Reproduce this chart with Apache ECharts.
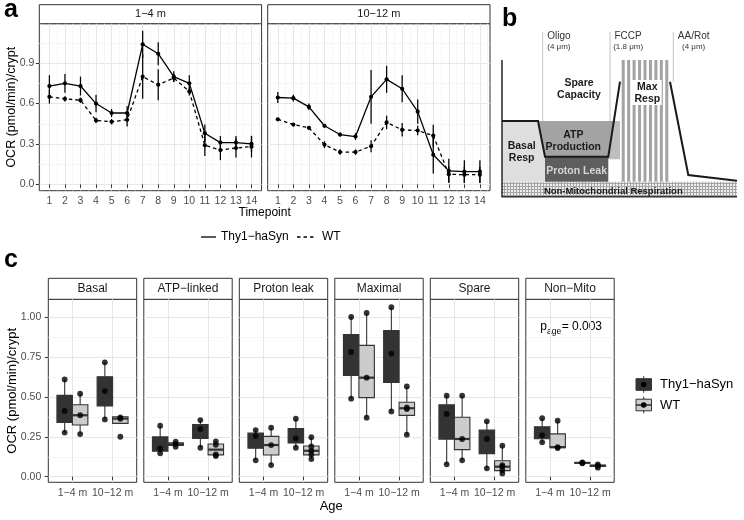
<!DOCTYPE html>
<html>
<head>
<meta charset="utf-8">
<title>OCR</title>
<script src="https://cdn.jsdelivr.net/npm/echarts@6/dist/echarts.min.js"></script>
<style>
html,body{margin:0;padding:0;background:#fff;}
#chart{width:744px;height:520px;}
</style>
</head>
<body>
<div id="chart"></div>
<script>
// ================= DATA =================
// Panel a : Seahorse OCR time course (mean, SE)
const timepoints = [1,2,3,4,5,6,7,8,9,10,11,12,13,14];
const ageGroups = ['1−4 m', '10−12 m'];
const genotypes = ['Thy1−haSyn', 'WT'];

const thyYoungMean = [0.73,0.75,0.73,0.60,0.53,0.53,1.04,0.97,0.80,0.75,0.38,0.31,0.31,0.30];
const thyYoungSE   = [0.08,0.07,0.07,0.065,0.03,0.05,0.10,0.085,0.04,0.06,0.065,0.05,0.05,0.06];
const wtYoungMean  = [0.65,0.635,0.625,0.475,0.465,0.48,0.80,0.74,0.79,0.69,0.29,0.255,0.27,0.28];
const wtYoungSE    = [0.05,0.02,0.02,0.02,0.02,0.05,0.165,0.115,0.03,0.03,0.08,0.075,0.07,0.08];
const thyOldMean   = [0.645,0.64,0.575,0.435,0.37,0.355,0.65,0.78,0.71,0.54,0.22,0.10,0.095,0.095];
const thyOldSE     = [0.04,0.025,0.025,0.01,0.015,0.025,0.20,0.10,0.10,0.09,0.14,0.09,0.085,0.085];
const wtOldMean    = [0.483,0.444,0.42,0.295,0.24,0.24,0.283,0.46,0.405,0.40,0.362,0.075,0.072,0.072];
const wtOldSE      = [0.01,0.01,0.01,0.025,0.02,0.02,0.045,0.05,0.05,0.035,0.08,0.06,0.06,0.06];
const yTicksA = [0, 0.3, 0.6, 0.9];
const yMinorA = [0.15, 0.45, 0.75, 1.05];
const xMinorA = [0.5,1.5,2.5,3.5,4.5,5.5,6.5,7.5,8.5,9.5,10.5,11.5,12.5,13.5,14.5];

// Panel b : schematic (time units x, OCR units y)
const nonMitoBand   = [[0,0],[235,0],[235,15],[0,15]];
const atpBand       = [[41,37.4],[118,37.4],[118,75.7],[41,75.7]];
const atpCore       = [[36,75.7],[43,40],[106.3,40],[112,75.7]];
const basalArea     = [[0,15],[43,15],[43,40],[36,75.7],[0,75.7]];
const protonLeak    = [[43,15],[106.3,15],[106.3,40],[43,40]];
const maxRespSpan   = [119.7,166.3,15,136.7];
const maxRespLabel  = [[129.7,91.7],[159.7,91.7],[159.7,116.7],[129.7,116.7]];
const ocrTraceA     = [[0,75.7],[36,75.7],[43,40],[106.3,40],[118,115]];
const ocrTraceB     = [[168,115],[186.3,21.7],[235,16]];
const schemAxes     = [[0,136.7],[0,0],[235,0]];
const injections    = [[40.7,'Oligo','(4 μm)',75.7],[108,'FCCP','(1.8 μm)',75.7],[171.3,'AA/Rot','(4 μm)',115]];
const regionLabels  = [
  ['Spare\nCapacity', 77, 107.2, 'dark'],
  ['ATP\nProduction', 71.3, 55.9, 'dark'],
  ['Basal\nResp', 19.7, 44.7, 'dark'],
  ['Proton Leak', 74.7, 25.7, 'light'],
  ['Max\nResp', 145.3, 103.5, 'dark'],
  ['Non-Mitochondrial Respiration', 111.3, 5, 'small']
];

// Panel c : box statistics [lower whisker, Q1, median, Q3, upper whisker]
// order: Thy1 1-4 m, WT 1-4 m, Thy1 10-12 m, WT 10-12 m
const facetNames = ['Basal','ATP−linked','Proton leak','Maximal','Spare','Non−Mito'];
const basalBoxes   = [[0.276,0.341,0.412,0.511,0.611],[0.268,0.325,0.386,0.452,0.521],[0.36,0.444,0.538,0.628,0.718],[0.335,0.335,0.365,0.377,0.377]];
const basalPoints  = [[0.611,0.413,0.277],[0.521,0.386,0.268],[0.718,0.538,0.36],[0.373,0.364,0.251]];
const atpBoxes     = [[0.147,0.16,0.178,0.25,0.32],[0.188,0.196,0.204,0.213,0.22],[0.182,0.24,0.30,0.328,0.356],[0.13,0.1375,0.17,0.2055,0.222]];
const atpPoints    = [[0.32,0.178,0.147],[0.22,0.205,0.188],[0.356,0.30,0.182],[0.222,0.2,0.14,0.13]];
const protonBoxes  = [[0.103,0.179,0.255,0.274,0.293],[0.073,0.136,0.199,0.2535,0.308],[0.182,0.2115,0.241,0.3025,0.364],[0.111,0.137,0.163,0.193,0.248]];
const protonPoints = [[0.293,0.255,0.103],[0.308,0.199,0.073],[0.364,0.241,0.182],[0.248,0.19,0.163,0.14,0.111]];
const maximalBoxes = [[0.49,0.6365,0.783,0.893,1.003],[0.371,0.4965,0.622,0.825,1.028],[0.41,0.5915,0.773,0.9185,1.064],[0.264,0.385,0.43,0.468,0.567]];
const maximalPoints= [[1.003,0.783,0.49],[1.028,0.622,0.371],[1.064,0.773,0.41],[0.567,0.435,0.425,0.264]];
const spareBoxes   = [[0.078,0.236,0.394,0.4515,0.509],[0.103,0.17,0.237,0.373,0.509],[0.053,0.145,0.237,0.2925,0.348],[0.021,0.038,0.063,0.10,0.195]];
const sparePoints  = [[0.509,0.394,0.078],[0.509,0.237,0.103],[0.348,0.237,0.053],[0.195,0.073,0.063,0.042,0.021]];
const nonMitoBoxes = [[0.216,0.238,0.26,0.3135,0.367],[0.18,0.183,0.186,0.269,0.352],[0.084,0.0855,0.087,0.0885,0.09],[0.057,0.064,0.068,0.073,0.077]];
const nonMitoPoints= [[0.367,0.26,0.216],[0.352,0.186,0.18],[0.09,0.087,0.084],[0.077,0.068,0.057]];
const yTicksC = [0, 0.25, 0.5, 0.75, 1.0];
const yMinorC = [0.125, 0.375, 0.625, 0.875];
const pAgeValue = '= 0.003';

// ================= LAYOUT / STYLE =================
const FONT = "'Liberation Sans', Arial, Helvetica, sans-serif";
const A_LEFT = [39.3, 267.7], A_W = 222.3, A_TOP = 23.7, A_H = 167, A_STRIP = 19;
const C_LEFT0 = 48.3, C_STEP = 95.5, C_W = 88.4, C_TOP = 299.3, C_H = 183, C_STRIP = 21;
const DODGE = 0.1925, BOXW = 0.385;
const BORDER = '#333333';
const TICK_FS = 10.5;

const grids = [], xAxes = [], yAxes = [], series = [], graphics = [];

function addGrid(g) { grids.push(g); return grids.length - 1; }
function axisPair(arr, gi, s) {
  arr.push({
    type: 'value', gridIndex: gi, min: s.min, max: s.max, show: s.show !== false,
    axisLine: { show: false },
    axisTick: { show: !!s.ticks, length: 3.5, inside: false, lineStyle: { color: BORDER, width: 1 }, customValues: s.major },
    axisLabel: { show: !!s.labels, customValues: s.major, formatter: s.fmt, color: '#4d4d4d', fontSize: TICK_FS, fontFamily: FONT, margin: s.margin || 5 },
    splitLine: { show: s.show !== false, lineStyle: { color: '#e6e6e6', width: 1 } },
    minorTick: { show: false }, minorSplitLine: { show: false }
  });
  const hasMinor = !!(s.minor && s.minor.length) && s.show !== false;
  arr.push({
    type: 'value', gridIndex: gi, min: s.min, max: s.max, show: hasMinor,
    axisLine: { show: false },
    axisTick: { show: false, customValues: hasMinor ? s.minor : [s.min] },
    axisLabel: { show: false },
    splitLine: { show: hasMinor, lineStyle: { color: '#f2f2f2', width: 0.7 } }
  });
}
function addAxes(gi, xs, ys) { axisPair(xAxes, gi, xs); axisPair(yAxes, gi, ys); }

function renderErr(params, api) {
  const x = api.value(0), m = api.value(1), s = api.value(2);
  const t = api.coord([x, m + s]), b = api.coord([x, m - s]);
  return { type: 'line', shape: { x1: t[0], y1: t[1], x2: b[0], y2: b[1] }, style: { stroke: '#000', lineWidth: 1.25 } };
}
function renderBox(params, api) {
  const cat = api.value(0), g = api.value(1);
  const x = cat + (g === 0 ? -DODGE : DODGE);
  const lo = api.coord([x, api.value(2)]), q1 = api.coord([x, api.value(3)]),
        md = api.coord([x, api.value(4)]), q3 = api.coord([x, api.value(5)]), hi = api.coord([x, api.value(6)]);
  const hw = api.size([BOXW, 0])[0] / 2;
  const fill = g === 0 ? '#333333' : '#cccccc';
  return { type: 'group', children: [
    { type: 'line', shape: { x1: lo[0], y1: lo[1], x2: q1[0], y2: q1[1] }, style: { stroke: BORDER, lineWidth: 1.1 } },
    { type: 'line', shape: { x1: q3[0], y1: q3[1], x2: hi[0], y2: hi[1] }, style: { stroke: BORDER, lineWidth: 1.1 } },
    { type: 'rect', shape: { x: lo[0] - hw, y: q3[1], width: 2 * hw, height: Math.max(q1[1] - q3[1], 0.5) }, style: { fill: fill, stroke: BORDER, lineWidth: 1.1 } },
    { type: 'line', shape: { x1: lo[0] - hw, y1: md[1], x2: lo[0] + hw, y2: md[1] }, style: { stroke: BORDER, lineWidth: 2.2 } }
  ]};
}

// hatch pattern for non-mitochondrial band
const hc = document.createElement('canvas'); hc.width = 3; hc.height = 3;
const hctx = hc.getContext('2d');
hctx.fillStyle = '#ececec'; hctx.fillRect(0, 0, 3, 3);
hctx.fillStyle = '#a4a4a4'; hctx.fillRect(0, 0, 3, 1); hctx.fillRect(0, 0, 1, 3);
const hatch = { image: hc, repeat: 'repeat' };
const mctx = document.createElement('canvas').getContext('2d');
function textW(t, size, weight) { mctx.font = (weight || 'normal') + ' ' + size + 'px ' + FONT; return mctx.measureText(t).width; }

function renderSchematic(params, api) {
  const P = pts => pts.map(p => api.coord(p));
  const c = [];
  const poly = (pts, fill) => c.push({ type: 'polygon', shape: { points: P(pts) }, style: { fill: fill } });
  const pline = (pts, stroke, w) => c.push({ type: 'polyline', shape: { points: P(pts) }, style: { stroke: stroke, lineWidth: w, fill: null } });
  const txt = (s, u, o) => { const p = api.coord(u); c.push({ type: 'text', x: p[0], y: p[1], style: Object.assign({ text: s, fill: '#1a1a1a', fontSize: 10.5, fontWeight: 'bold', fontFamily: FONT, align: 'center', verticalAlign: 'middle', lineHeight: 12.2 }, o || {}) }); };
  poly(nonMitoBand, hatch);
  poly(atpBand, '#bebebe');
  poly(atpCore, '#a3a3a3');
  poly(basalArea, '#dedede');
  poly(protonLeak, '#5e5e5e');
  const [sx0, sx1, sy0, sy1] = maxRespSpan;
  const n = 9, w = 3;
  for (let k = 0; k < n; k++) {
    const x = sx0 + k * (sx1 - sx0 - w) / (n - 1);
    poly([[x, sy0], [x + w, sy0], [x + w, sy1], [x, sy1]], '#a3a3a3');
  }
  poly(maxRespLabel, '#ffffff');
  injections.forEach(([lx, name, dose, bottom]) => {
    pline([[lx, 165], [lx, bottom]], '#b5b5b5', 0.8);
    const nw = textW(name, 10);
    const cx = lx + 4.5 + nw / 2;
    txt(name, [cx, 160], { fontWeight: 'normal', fontSize: 10, fill: '#333' });
    txt(dose, [cx, 150], { fontWeight: 'normal', fontSize: 8, fill: '#333' });
  });
  pline(schemAxes, '#333', 1.6);
  pline(ocrTraceA, '#1a1a1a', 2);
  pline(ocrTraceB, '#1a1a1a', 2);
  regionLabels.forEach(([s, x, y, kind]) => {
    const o = kind === 'light' ? { fill: '#d4d4d4' } : kind === 'small' ? { fontSize: 9.5 } : {};
    txt(s, [x, y], o);
  });
  return { type: 'group', children: c };
}

// ---------- Panel a ----------
const aSets = [[thyYoungMean, thyYoungSE, wtYoungMean, wtYoungSE], [thyOldMean, thyOldSE, wtOldMean, wtOldSE]];
aSets.forEach((set, i) => {
  const gi = addGrid({ left: A_LEFT[i], top: A_TOP, width: A_W, height: A_H, show: true, borderColor: BORDER, borderWidth: 1, backgroundColor: 'transparent' });
  addAxes(gi,
    { min: 0.35, max: 14.65, major: timepoints, minor: xMinorA, labels: true, ticks: true, fmt: v => String(Math.round(v)), margin: 5 },
    { min: -0.047, max: 1.193, major: yTicksA, minor: yMinorA, labels: i === 0, ticks: i === 0, fmt: v => v.toFixed(1), margin: 5 });
  const [tm, ts, wm, ws] = set;
  series.push({ type: 'custom', xAxisIndex: 2 * gi, yAxisIndex: 2 * gi, data: timepoints.map((t, k) => [t, tm[k], ts[k]]), encode: { x: 0, y: 1 }, renderItem: renderErr, silent: true, z: 2 });
  series.push({ type: 'custom', xAxisIndex: 2 * gi, yAxisIndex: 2 * gi, data: timepoints.map((t, k) => [t, wm[k], ws[k]]), encode: { x: 0, y: 1 }, renderItem: renderErr, silent: true, z: 2 });
  series.push({ type: 'line', name: genotypes[0], xAxisIndex: 2 * gi, yAxisIndex: 2 * gi, data: timepoints.map((t, k) => [t, tm[k]]), symbol: 'circle', symbolSize: 4.2, showAllSymbol: true, lineStyle: { color: '#000', width: 1.3 }, itemStyle: { color: '#000' }, silent: true, z: 3 });
  series.push({ type: 'line', name: genotypes[1], xAxisIndex: 2 * gi, yAxisIndex: 2 * gi, data: timepoints.map((t, k) => [t, wm[k]]), symbol: 'circle', symbolSize: 4.2, showAllSymbol: true, lineStyle: { color: '#000', width: 1.3, type: [3.5, 3] }, itemStyle: { color: '#000' }, silent: true, z: 3 });
});

// ---------- Panel b ----------
{
  const gi = addGrid({ left: 502, top: 32, width: 235, height: 164.7, show: false });
  addAxes(gi, { min: 0, max: 235, major: [0], show: false }, { min: 0, max: 164.7, major: [0], show: false });
  series.push({ type: 'custom', xAxisIndex: 2 * gi, yAxisIndex: 2 * gi, data: [[0, 0]], renderItem: renderSchematic, silent: true, clip: false });
}

// ---------- Panel c ----------
const facetBoxes = [basalBoxes, atpBoxes, protonBoxes, maximalBoxes, spareBoxes, nonMitoBoxes];
const facetPoints = [basalPoints, atpPoints, protonPoints, maximalPoints, sparePoints, nonMitoPoints];
facetNames.forEach((name, f) => {
  const gi = addGrid({ left: C_LEFT0 + f * C_STEP, top: C_TOP, width: C_W, height: C_H, show: true, borderColor: BORDER, borderWidth: 1, backgroundColor: 'transparent' });
  addAxes(gi,
    { min: 0.4, max: 2.6, major: [1, 2], labels: true, ticks: true, fmt: v => ageGroups[Math.round(v) - 1], margin: 5 },
    { min: -0.035, max: 1.114, major: yTicksC, minor: yMinorC, labels: f === 0, ticks: f === 0, fmt: v => v.toFixed(2), margin: 7 });
  const boxData = facetBoxes[f].map((b, k) => [Math.floor(k / 2) + 1, k % 2].concat(b));
  series.push({ type: 'custom', xAxisIndex: 2 * gi, yAxisIndex: 2 * gi, data: boxData, encode: { x: 0, y: [2, 6] }, renderItem: renderBox, silent: true, z: 2 });
  const pts = [];
  facetPoints[f].forEach((vals, k) => {
    const cat = Math.floor(k / 2) + 1, g = k % 2;
    vals.forEach(v => pts.push([cat + (g ? DODGE : -DODGE), v]));
  });
  series.push({ type: 'scatter', xAxisIndex: 2 * gi, yAxisIndex: 2 * gi, data: pts, symbolSize: 5.8, itemStyle: { color: '#000' }, silent: true, z: 4 });
});

// ---------- annotations (strips, titles, legends) ----------
function gText(text, x, y, o, extra) {
  graphics.push(Object.assign({ type: 'text', x: x, y: y, silent: true, style: Object.assign({ text: text, fill: '#000', fontSize: 11.5, fontFamily: FONT, align: 'center', verticalAlign: 'middle' }, o || {}) }, extra || {}));
}
function gRect(x, y, w, h, o) { graphics.push({ type: 'rect', silent: true, shape: { x: x, y: y, width: w, height: h }, style: Object.assign({ fill: '#fff', stroke: BORDER, lineWidth: 1 }, o || {}) }); }
function gLine(x1, y1, x2, y2, o) { graphics.push({ type: 'line', silent: true, shape: { x1: x1, y1: y1, x2: x2, y2: y2 }, style: Object.assign({ stroke: '#000', lineWidth: 1.3 }, o || {}) }); }

ageGroups.forEach((a, i) => {
  gRect(A_LEFT[i], A_TOP - A_STRIP, A_W, A_STRIP);
  gText(a, A_LEFT[i] + A_W / 2, A_TOP - A_STRIP / 2, { fontSize: 11, fill: '#1a1a1a' });
});
facetNames.forEach((nm, f) => {
  const x = C_LEFT0 + f * C_STEP;
  gRect(x, C_TOP - C_STRIP, C_W, C_STRIP);
  gText(nm, x + C_W / 2, C_TOP - C_STRIP / 2, { fontSize: 12, fill: '#1a1a1a' });
});
gText('OCR (pmol/min)/crypt', 12, A_TOP + A_H / 2, { fontSize: 12.5 }, { rotation: Math.PI / 2 });
gText('Timepoint', (A_LEFT[0] + A_LEFT[1] + A_W) / 2, 212.5, { fontSize: 12 });
gText('OCR (pmol/min)/crypt', 12, C_TOP + C_H / 2, { fontSize: 13 }, { rotation: Math.PI / 2 });
gText('Age', (C_LEFT0 + 5 * C_STEP + C_W + C_LEFT0) / 2, 506.5, { fontSize: 13 });

// legend a
gLine(201, 237, 216, 237);
gText(genotypes[0], 221, 237, { align: 'left', fontSize: 12 });
gLine(297, 237, 316, 237, { lineDash: [3.5, 3] });
gText(genotypes[1], 322, 237, { align: 'left', fontSize: 12 });

// legend c
[[384.5, '#333333'], [405, '#cccccc']].forEach(([cy, fill], g) => {
  gLine(643.7, cy - 8.3, 643.7, cy + 8.3, { stroke: BORDER, lineWidth: 1 });
  gRect(636, cy - 5.8, 15.5, 11.6, { fill: fill, stroke: BORDER, lineWidth: 1 });
  gLine(636, cy, 651.5, cy, { stroke: BORDER, lineWidth: 1.6 });
  graphics.push({ type: 'circle', silent: true, shape: { cx: 643.7, cy: cy, r: 2.8 }, style: { fill: '#000' } });
  gText(genotypes[g], 660, cy, { align: 'left', fontSize: 13 });
});

// p-value annotation
{
  const x0 = 540.3, y0 = 326.5;
  const pw = textW('p', 12), aw = textW('age', 8.5);
  gText('p', x0, y0, { align: 'left', fontSize: 12 });
  gText('age', x0 + pw, y0 + 5.5, { align: 'left', fontSize: 8.5 });
  gText(pAgeValue, x0 + pw + aw + 0.5, y0, { align: 'left', fontSize: 12 });
}

// panel letters
gText('a', 4, 10.5, { align: 'left', fontSize: 25, fontWeight: 'bold' });
gText('b', 502, 19.4, { align: 'left', fontSize: 25, fontWeight: 'bold' });
gText('c', 4, 260, { align: 'left', fontSize: 25, fontWeight: 'bold' });

const chart = echarts.init(document.getElementById('chart'), null, { renderer: 'canvas' });
chart.setOption({
  animation: false,
  backgroundColor: '#ffffff',
  textStyle: { fontFamily: FONT },
  grid: grids,
  xAxis: xAxes,
  yAxis: yAxes,
  series: series,
  graphic: { elements: graphics }
});
</script>
</body>
</html>
